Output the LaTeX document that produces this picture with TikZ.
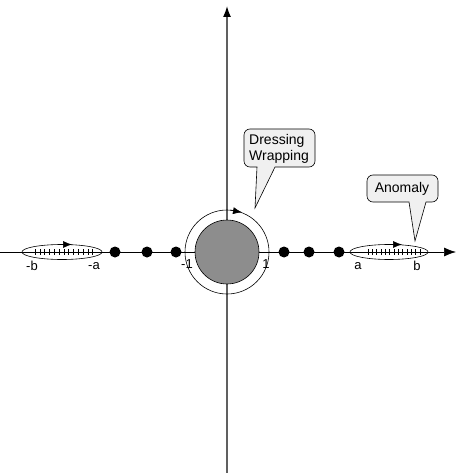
\documentclass[tikz,border=0pt]{standalone}
\usepackage{fontspec}
\setmainfont{Liberation Sans}
\usetikzlibrary{arrows.meta}
\begin{document}
\begin{tikzpicture}[x=1pt,y=-1pt,
  lbl/.style={font=\fontsize{13}{15}\selectfont, inner sep=0pt},
  ctext/.style={font=\fontsize{14}{16}\selectfont, inner sep=0pt, align=left},
  callout/.style={draw=black, fill=gray!12, line width=0.6pt},
  dotnode/.style={circle, fill=black, inner sep=0pt, minimum size=11pt},
  axisline/.style={line width=0.7pt},
  thin/.style={line width=0.6pt}]
\useasboundingbox (0,0) rectangle (456,473);
% vertical axis
\draw[line width=1.5pt, gray!75!black, -{Latex[length=11pt,width=8pt,color=black]}] (227,473) -- (227,6);
% horizontal axis
\draw[axisline, -{Latex[length=12pt,width=9pt]}] (0,252) -- (456,252);
% central circles
\draw[thin] (227,252) circle [radius=42];
\draw[thin, fill=gray!95!black!85] (227,252) circle [radius=32];
\draw[thin, -{Latex[length=9pt,width=7pt]}] (230,210.1) -- (242,212.3);
% ellipses with ticks
\draw[thin] (62,252) ellipse [x radius=40, y radius=7.5];
\foreach \i in {0,...,12} \draw[line width=0.5pt] (35+\i*4.8,249) -- ++(0,6);
\draw[thin, -{Latex[length=9pt,width=7pt]}] (58,244.5) -- (72,244.5);
\draw[thin] (389,252) ellipse [x radius=39, y radius=7.5];
\foreach \i in {0,...,12} \draw[line width=0.5pt] (368+\i*4.33,249) -- ++(0,6);
\draw[thin, -{Latex[length=9pt,width=7pt]}] (388,244.5) -- (402,244.5);
% dots
\node[dotnode] (d1) at (115,252) {};
\node[dotnode] (d2) at (147,252) {};
\node[dotnode] (d3) at (176,252) {};
\node[dotnode] (d4) at (284,252) {};
\node[dotnode] (d5) at (309,252) {};
\node[dotnode] (d6) at (339,252) {};
% labels
\node[lbl] (lm1) at (187,264) {-1};
\node[lbl] (lp1) at (266,264) {1};
\node[lbl] (lmb) at (32,266) {-b};
\node[lbl] (lma) at (94,266) {-a};
\node[lbl] (la) at (358,266) {a};
\node[lbl] (lb) at (417,266) {b};
% callouts
\draw[callout] (257,167) -- (255,208) -- (275,167) [rounded corners=6pt] -- (315,167) -- (315,129) -- (244,129) -- (244,167) [sharp corners] -- cycle;
\node[ctext, anchor=west] (dw) at (249,149) {Dressing\\Wrapping};
\draw[callout] (409,202) -- (415,241) -- (426,202) [rounded corners=6pt] -- (438,202) -- (438,175) -- (367,175) -- (367,202) [sharp corners] -- cycle;
\node[ctext] (an) at (402,189) {Anomaly};
\end{tikzpicture}
\end{document}
